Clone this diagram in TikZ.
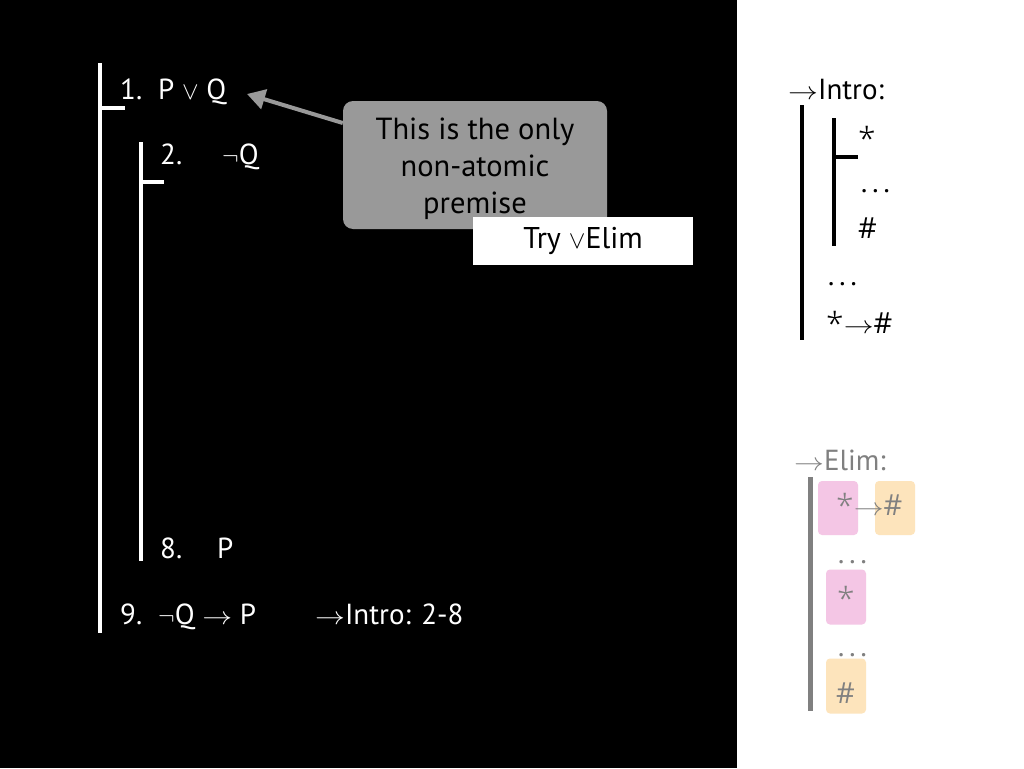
\documentclass[tikz,border=0pt]{standalone}
\usepackage{fontspec}
\setmainfont{PT Sans}
\newfontfamily\astfont{Open Sans Light}
\newfontfamily\hashfont{Open Sans}
\usetikzlibrary{arrows.meta}
\definecolor{calloutgray}{RGB}{153,153,153}
\definecolor{elimgray}{RGB}{128,128,128}
\definecolor{pinkbox}{RGB}{244,198,229}
\definecolor{orangebox}{RGB}{253,228,188}
\newcommand{\myast}{\raisebox{-0.1em}{\scalebox{1.1}{\astfont *}}}
\newcommand{\myhash}{{\hashfont\#}}
\newcommand{\mydots}{.\hspace{5pt}.\hspace{5pt}.}
\newcommand{\arr}{\scalebox{1.2}[1]{$\rightarrow$}}
\tikzset{
  wtxt/.style={text=white, inner sep=0pt, anchor=base west, font=\fontsize{29}{34}\selectfont},
  btxt/.style={text=black, inner sep=0pt, anchor=base west, font=\fontsize{29}{34}\selectfont},
  gtxt/.style={text=elimgray, inner sep=0pt, anchor=base west, font=\fontsize{29}{34}\selectfont},
  wbar/.style={draw=white, line width=4pt},
  bbar/.style={draw=black, line width=4pt},
  gbar/.style={draw=elimgray, line width=5pt},
  callout/.style={fill=calloutgray, rounded corners=10pt, minimum width=264pt, minimum height=128pt, inner sep=0pt},
  callouttext/.style={align=center, text=black, font=\fontsize{30.5}{37}\selectfont, inner sep=0pt},
  trybox/.style={fill=white, minimum width=220pt, minimum height=48pt, text=black, font=\fontsize{30}{34}\selectfont, inner sep=0pt},
  pbox/.style={fill=pinkbox, rounded corners=4pt, inner sep=0pt},
  obox/.style={fill=orangebox, rounded corners=4pt, inner sep=0pt},
}
\begin{document}
\begin{tikzpicture}[x=1pt,y=-1pt]
\useasboundingbox (0,0) rectangle (1024,768);
\fill[black] (0,0) rectangle (737,768);
\fill[white] (737,0) rectangle (1024,768);

% left proof bars
\draw[wbar] (100,63) -- (100,633);
\draw[wbar] (100,108) -- (125,108);
\draw[wbar] (141,142) -- (141,561);
\draw[wbar] (141,182) -- (164,182);

% proof lines
\node[wtxt] (n1) at (120,99) {1.};
\node[wtxt] (l1) at (158,99) {P $\vee$ Q};
\node[wtxt] (n2) at (160,164) {2.};
\node[wtxt] (l2) at (222,164) {$\neg$Q};
\node[wtxt] (n8) at (160,558) {8.};
\node[wtxt] (l8) at (217,558) {P};
\node[wtxt] (n9) at (120,624) {9.};
\node[wtxt] (l9) at (158,624) {$\neg$Q \arr{} P};
\node[wtxt] (j9) at (315,624) {\arr{}Intro: 2-8};

% callout
\node[callout] (co) at (475,165) {};
\node[callouttext] (cot) at (475,169) {This is the only\\non-atomic\\premise};
\coordinate (tip) at (247,94);
\draw[draw=calloutgray, line width=4pt, -{Triangle[length=18pt,width=20pt]}] (co.west |- 0,123) -- (tip);
\node[trybox] (try) at (583,241) {Try $\vee$Elim};

% ->Intro panel
\node[btxt] (ih) at (788,99) {\arr{}Intro:};
\draw[bbar] (802,105) -- (802,340);
\draw[bbar] (834,118) -- (834,246);
\draw[bbar] (834,157) -- (858,157);
\node[btxt] (is) at (858,148) {\myast};
\node[btxt] (id1) at (861,192) {\mydots};
\node[btxt] (ih2) at (858,238) {\myhash};
\node[btxt] (id2) at (828,285) {\mydots};
\node[btxt] (ires) at (826,333) {\myast\arr\myhash};

% ->Elim panel
\node[gtxt] (eh) at (794,470) {\arr{}Elim:};
\draw[gbar] (810,477) -- (810,711);
\node[pbox, minimum width=40pt, minimum height=54pt] (pb1) at (838,508) {};
\node[obox, minimum width=40pt, minimum height=54pt] (ob1) at (895,508) {};
\node[gtxt] (es1) at (836,515) {\myast\arr\myhash};
\node[gtxt] (ed1) at (838,563) {\mydots};
\node[pbox, minimum width=40pt, minimum height=55pt] (pb2) at (846,597) {};
\node[gtxt] (es2) at (837,608) {\myast};
\node[gtxt] (ed2) at (838,656) {\mydots};
\node[obox, minimum width=40pt, minimum height=55pt] (ob2) at (846,686) {};
\node[gtxt] (eh2) at (836,703) {\myhash};
\end{tikzpicture}
\end{document}
